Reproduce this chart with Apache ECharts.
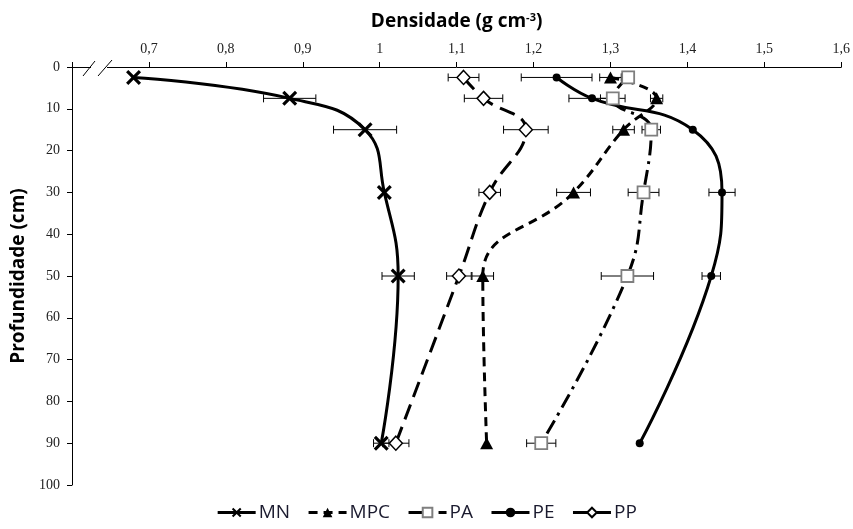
<!DOCTYPE html>
<html>
<head>
<meta charset="utf-8">
<script src="https://cdn.jsdelivr.net/npm/echarts@6/dist/echarts.min.js"></script>
<style>
  html, body { margin: 0; padding: 0; background: #fff; }
  #chart { width: 853px; height: 529px; }
</style>
</head>
<body>
<div id="chart"></div>
<script>
// Soil depths (cm) of each sampling layer
const depths = [2.5, 7.5, 15, 30, 50, 90];

// Bulk density (g cm-3) per land use, and the half-width of each error bar
const MN = [0.68, 0.883, 0.981, 1.006, 1.024, 1.002];
const MN_err = [0, 0.034, 0.041, 0, 0.021, 0.010];

const MPC = [1.300, 1.360, 1.317, 1.252, 1.134, 1.139];
const MPC_err = [0.014, 0.008, 0.014, 0.022, 0.014, 0];

const PA = [1.323, 1.303, 1.353, 1.343, 1.322, 1.210];
const PA_err = [0.008, 0.016, 0.012, 0.020, 0.034, 0.019];

const PE = [1.230, 1.276, 1.407, 1.445, 1.431, 1.338];
const PE_err = [0.046, 0.030, 0, 0.017, 0.012, 0];

const PP = [1.109, 1.135, 1.190, 1.143, 1.103, 1.021];
const PP_err = [0.020, 0.025, 0.029, 0.014, 0.016, 0.017];

// Axis ticks
const depthTicks = { min: 0, max: 100, step: 10 };
const densityTicks = { min: 0.6, max: 1.6, step: 0.1 };

const chart = echarts.init(document.getElementById('chart'), null, { renderer: 'canvas' });

const pts = vals => vals.map((v, i) => [v, depths[i]]);
const errPts = (vals, errs) => vals.map((v, i) => [v, depths[i], errs[i]]);

const X_SYMBOL = 'path://M1.5,0 L5,3.5 L8.5,0 L10,1.5 L6.5,5 L10,8.5 L8.5,10 L5,6.5 L1.5,10 L0,8.5 L3.5,5 L0,1.5 Z';

function lineSeries(name, vals, symbol, size, itemStyle, dash) {
  return {
    name, type: 'line', data: pts(vals), smooth: 0.45,
    symbol, symbolSize: size, z: 3,
    lineStyle: { color: '#000', width: 3, type: dash, cap: 'butt' },
    itemStyle,
    emphasis: { disabled: true },
    animation: false
  };
}

function errSeries(vals, errs) {
  return {
    type: 'custom', data: errPts(vals, errs), z: 2, silent: true, animation: false,
    renderItem(params, api) {
      const v = api.value(0), d = api.value(1), e = api.value(2);
      if (!e) return null;
      const a = api.coord([v - e, d]);
      const b = api.coord([v + e, d]);
      const h = 4;
      const style = { stroke: '#000', lineWidth: 1 };
      return {
        type: 'group',
        children: [
          { type: 'line', shape: { x1: a[0], y1: a[1], x2: b[0], y2: b[1] }, style },
          { type: 'line', shape: { x1: a[0], y1: a[1] - h, x2: a[0], y2: a[1] + h }, style },
          { type: 'line', shape: { x1: b[0], y1: b[1] - h, x2: b[0], y2: b[1] + h }, style }
        ]
      };
    }
  };
}

const fmtDensity = v => {
  const r = Math.round(v * 10) / 10;
  if (Math.abs(r - densityTicks.min) < 1e-6) return '';
  return String(r).replace('.', ',');
};

const option = {
  backgroundColor: '#fff',
  animation: false,
  grid: { left: 72, right: 10, top: 67, bottom: 44 },
  xAxis: {
    type: 'value', position: 'top',
    min: densityTicks.min, max: densityTicks.max, interval: densityTicks.step,
    name: '{a|Densidade (g cm}{s|-3}{a|)}',
    nameLocation: 'middle', nameGap: 36,
    nameTextStyle: {
      rich: {
        a: { fontFamily: 'Open Sans', fontWeight: 'bold', fontSize: 19, color: '#000' },
        s: { fontFamily: 'Open Sans', fontWeight: 'bold', fontSize: 11, color: '#000', verticalAlign: 'top', padding: [0, 0, 8, 0] }
      }
    },
    axisLine: { show: true, lineStyle: { color: '#000', width: 1 } },
    axisTick: { show: true, inside: false, length: 5, lineStyle: { color: '#000' } },
    axisLabel: { formatter: fmtDensity, fontFamily: 'Liberation Serif', fontSize: 14, color: '#222', margin: 11 },
    splitLine: { show: false }
  },
  yAxis: {
    type: 'value', inverse: true,
    min: depthTicks.min, max: depthTicks.max, interval: depthTicks.step,
    name: 'Profundidade (cm)',
    nameLocation: 'middle', nameGap: 40, nameRotate: 90,
    nameTextStyle: { fontFamily: 'Open Sans', fontWeight: 'bold', fontSize: 19, color: '#000' },
    axisLine: { show: true, lineStyle: { color: '#000', width: 1 } },
    axisTick: { show: true, length: 5, lineStyle: { color: '#000' } },
    axisLabel: { fontFamily: 'Liberation Serif', fontSize: 14, color: '#222', margin: 12 },
    splitLine: { show: false }
  },
  legend: {
    bottom: 2, left: 'center',
    data: ['MN', 'MPC', 'PA', 'PE', 'PP'],
    itemWidth: 38, itemHeight: 12, itemGap: 17,
    textStyle: { fontFamily: 'Open Sans', fontSize: 19, color: '#1a1a2e', padding: [0, 0, 0, -2] },
    lineStyle: { width: 3 }
  },
  series: [
    errSeries(MN, MN_err),
    errSeries(MPC, MPC_err),
    errSeries(PA, PA_err),
    errSeries(PE, PE_err),
    errSeries(PP, PP_err),
    lineSeries('MN', MN, X_SYMBOL, 15, { color: '#000' }, 'solid'),
    lineSeries('MPC', MPC, 'triangle', [13, 12], { color: '#000' }, [9, 6]),
    lineSeries('PA', PA, 'rect', 12, { color: '#fff', borderColor: '#7f7f7f', borderWidth: 1.8 }, [15, 6, 3, 6]),
    lineSeries('PE', PE, 'circle', 8, { color: '#000' }, 'solid'),
    lineSeries('PP', PP, 'diamond', [13, 14], { color: '#fff', borderColor: '#000', borderWidth: 1.5 }, [16, 8])
  ]
};

chart.setOption(option);

// Axis break marks at the truncated start of the density axis
const origin = chart.convertToPixel({ xAxisIndex: 0, yAxisIndex: 0 }, [densityTicks.min, depthTicks.min]);
const ox = origin[0], oy = origin[1];
chart.setOption({
  graphic: [
    { type: 'rect', z: 100, shape: { x: ox + 19, y: oy - 2, width: 16, height: 4 }, style: { fill: '#fff' } },
    { type: 'line', z: 101, shape: { x1: ox + 11, y1: oy + 9, x2: ox + 23, y2: oy - 6 }, style: { stroke: '#000', lineWidth: 1 } },
    { type: 'line', z: 101, shape: { x1: ox + 26, y1: oy + 9, x2: ox + 40, y2: oy - 7 }, style: { stroke: '#000', lineWidth: 1 } }
  ]
});
</script>
</body>
</html>
